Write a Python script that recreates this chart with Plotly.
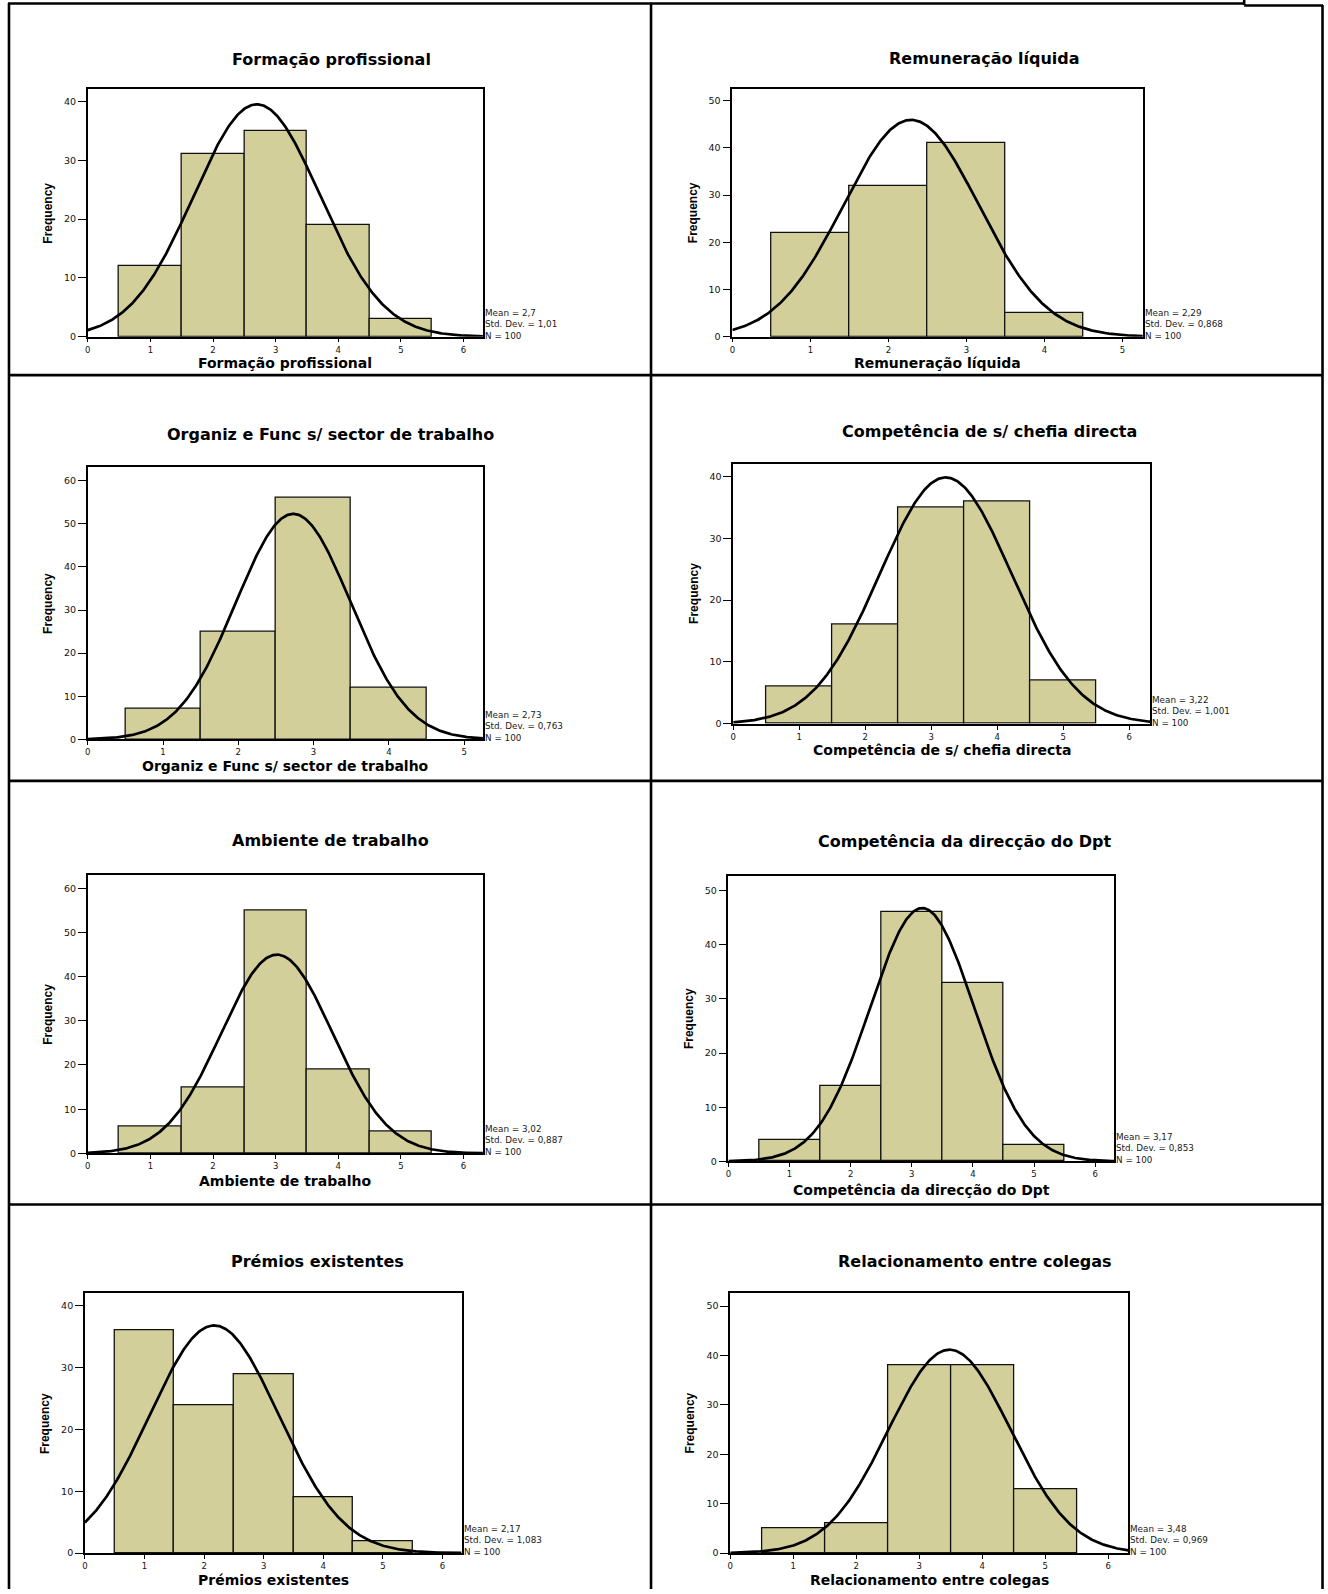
import numpy as np
import plotly.graph_objects as go

# ---------------- data ----------------
titles = [
    "Formação profissional",
    "Remuneração líquida",
    "Organiz e Func s/ sector de trabalho",
    "Competência de s/ chefia directa",
    "Ambiente de trabalho",
    "Competência da direcção do Dpt",
    "Prémios existentes",
    "Relacionamento entre colegas",
]
bins_formacao = [1, 2, 3, 4, 5]
freq_formacao = [12, 31, 35, 19, 3]
bins_remuneracao = [1, 2, 3, 4]
freq_remuneracao = [22, 32, 41, 5]
bins_organiz = [1, 2, 3, 4]
freq_organiz = [7, 25, 56, 12]
bins_chefia = [1, 2, 3, 4, 5]
freq_chefia = [6, 16, 35, 36, 7]
bins_ambiente = [1, 2, 3, 4, 5]
freq_ambiente = [6, 15, 55, 19, 5]
bins_direccao = [1, 2, 3, 4, 5]
freq_direccao = [4, 14, 46, 33, 3]
bins_premios = [1, 2, 3, 4, 5]
freq_premios = [36, 24, 29, 9, 2]
bins_relacion = [1, 2, 3, 4, 5]
freq_relacion = [5, 6, 38, 38, 13]

means = [2.7, 2.29, 2.73, 3.22, 3.02, 3.17, 2.17, 3.48]
std_devs = [1.01, 0.868, 0.763, 1.001, 0.887, 0.853, 1.083, 0.969]
n_obs = [100, 100, 100, 100, 100, 100, 100, 100]

all_bins = [bins_formacao, bins_remuneracao, bins_organiz, bins_chefia,
            bins_ambiente, bins_direccao, bins_premios, bins_relacion]
all_freq = [freq_formacao, freq_remuneracao, freq_organiz, freq_chefia,
            freq_ambiente, freq_direccao, freq_premios, freq_relacion]

# ---------------- layout config (pixels) ----------------
W, H = 1328, 1594
# plot boxes: x0, x1, y0(top), y1(bottom)
boxes = [
    (85, 481, 89.3, 337.7),
    (731, 1142.4, 89.3, 337.7),
    (85, 481, 468.3, 741.7),
    (731.9, 1149.8, 465, 726),
    (85, 481, 877.3, 1157),
    (727.1, 1113.6, 878.7, 1165),
    (82.1, 459.6, 1297.3, 1558),
    (728.9, 1128, 1297.3, 1558),
]
x_ranges = [6.31, 5.26, 5.25, 6.32, 6.31, 6.31, 6.32, 6.32]
y_ranges = [42.1, 52.5, 63.2, 42.1, 63.1, 52.7, 42.05, 52.6]
title_pos = [
    (329, 60), (984, 59), (328, 435.7), (989, 433.3),
    (328, 843.3), (964, 844.3), (315, 1265.7), (974, 1265.7),
]
xtitle_shift = [26, 26, 27, 26, 27.5, 28.5, 26.5, 26.5]

BAR_FILL = "#D3CF9B"
FONT_WIDE = "DejaVu Sans"
FONT_NARROW = "Liberation Sans, Arial, sans-serif"

fig = go.Figure()
annotations = []

for i in range(8):
    k = i + 1
    xa = "x" if k == 1 else f"x{k}"
    ya = "y" if k == 1 else f"y{k}"
    x0, x1, y0, y1 = boxes[i]

    fig.add_trace(go.Bar(
        x=all_bins[i], y=all_freq[i], width=1,
        marker=dict(color=BAR_FILL, line=dict(color="#111111", width=1.3)),
        xaxis=xa, yaxis=ya, showlegend=False, hoverinfo="x+y",
    ))
    xs = np.linspace(0, x_ranges[i], 400)
    m, s, n = means[i], std_devs[i], n_obs[i]
    ys = n * 1.0 / (s * np.sqrt(2 * np.pi)) * np.exp(-0.5 * ((xs - m) / s) ** 2)
    fig.add_trace(go.Scatter(
        x=xs, y=ys, mode="lines", line=dict(color="black", width=2.7),
        xaxis=xa, yaxis=ya, showlegend=False, hoverinfo="skip",
    ))

    xkey = "xaxis" if k == 1 else f"xaxis{k}"
    ykey = "yaxis" if k == 1 else f"yaxis{k}"
    fig.layout[xkey] = dict(
        domain=[x0 / W, x1 / W], anchor=ya, range=[0, x_ranges[i]],
        tickmode="linear", tick0=0, dtick=1, ticks="outside", ticklen=4,
        tickwidth=1.2, tickcolor="black", showgrid=False, zeroline=False,
        showline=True, mirror=True, linecolor="black", linewidth=1.6,
        tickfont=dict(family=FONT_WIDE, size=8.5, color="#111111"),
        fixedrange=True,
    )
    fig.layout[ykey] = dict(
        domain=[1 - y1 / H, 1 - y0 / H], anchor=xa, range=[0, y_ranges[i]],
        tickmode="linear", tick0=0, dtick=10, ticks="outside", ticklen=8,
        tickwidth=1.2, tickcolor="black", showgrid=False, zeroline=False,
        showline=True, mirror=True, linecolor="black", linewidth=1.6,
        tickfont=dict(family=FONT_WIDE, size=9.5, color="#111111"),
        fixedrange=True,
    )

    # chart title
    tx, ty = title_pos[i]
    annotations.append(dict(
        text="<b>%s</b>" % titles[i], xref="paper", yref="paper",
        x=tx / W, y=1 - ty / H, xanchor="center", yanchor="middle",
        showarrow=False, font=dict(family=FONT_WIDE, size=16, color="black"),
    ))
    # x-axis title
    annotations.append(dict(
        text="<b>%s</b>" % titles[i], xref=f"{xa} domain", yref=f"{ya} domain",
        x=0.5, y=0, yshift=-xtitle_shift[i], xanchor="center", yanchor="middle",
        showarrow=False, font=dict(family=FONT_WIDE, size=14, color="black"),
    ))
    # y-axis title
    annotations.append(dict(
        text="<b>Frequency</b>", xref=f"{xa} domain", yref=f"{ya} domain",
        x=0, xshift=-40, y=0.5, xanchor="center", yanchor="middle",
        textangle=-90, showarrow=False,
        font=dict(family=FONT_NARROW, size=12, color="black"),
    ))
    # statistics
    stats = "<br>".join([
        "Mean = " + str(means[i]).replace(".", ","),
        "Std. Dev. = " + str(std_devs[i]).replace(".", ","),
        "N = " + str(n_obs[i]),
    ])
    annotations.append(dict(
        text=stats, xref=f"{xa} domain", yref=f"{ya} domain",
        x=1, xshift=0, y=0, yshift=-6, xanchor="left", yanchor="bottom",
        align="left", showarrow=False,
        font=dict(family=FONT_WIDE, size=8.8, color="#1a1a1a"),
    ))

# table border lines (pixel coordinates -> paper)
def px_line(xa0, ya0, xa1, ya1, w=2.6):
    return dict(type="line", xref="paper", yref="paper",
                x0=xa0 / W, y0=1 - ya0 / H, x1=xa1 / W, y1=1 - ya1 / H,
                line=dict(color="black", width=w))

shapes = [
    px_line(5, 3.5, 1244, 3.5),
    px_line(1244, 0, 1244, 5),
    px_line(1244, 5.5, 1323, 5.5),
    px_line(6, 3, 6, H),
    px_line(1322.5, 5, 1322.5, H),
    px_line(649.5, 3, 649.5, H),
    px_line(6, 376.3, 1323, 376.3),
    px_line(6, 783.3, 1323, 783.3),
    px_line(6, 1208.3, 1323, 1208.3),
]

fig.update_layout(
    width=W, height=H, margin=dict(l=0, r=0, t=0, b=0),
    paper_bgcolor="white", plot_bgcolor="white",
    annotations=annotations, shapes=shapes, bargap=0,
    showlegend=False,
)

fig.write_html(
    "out.html",
    config={"displayModeBar": False},
    post_script="document.body.style.margin='0';document.body.style.overflow='hidden';",
)
